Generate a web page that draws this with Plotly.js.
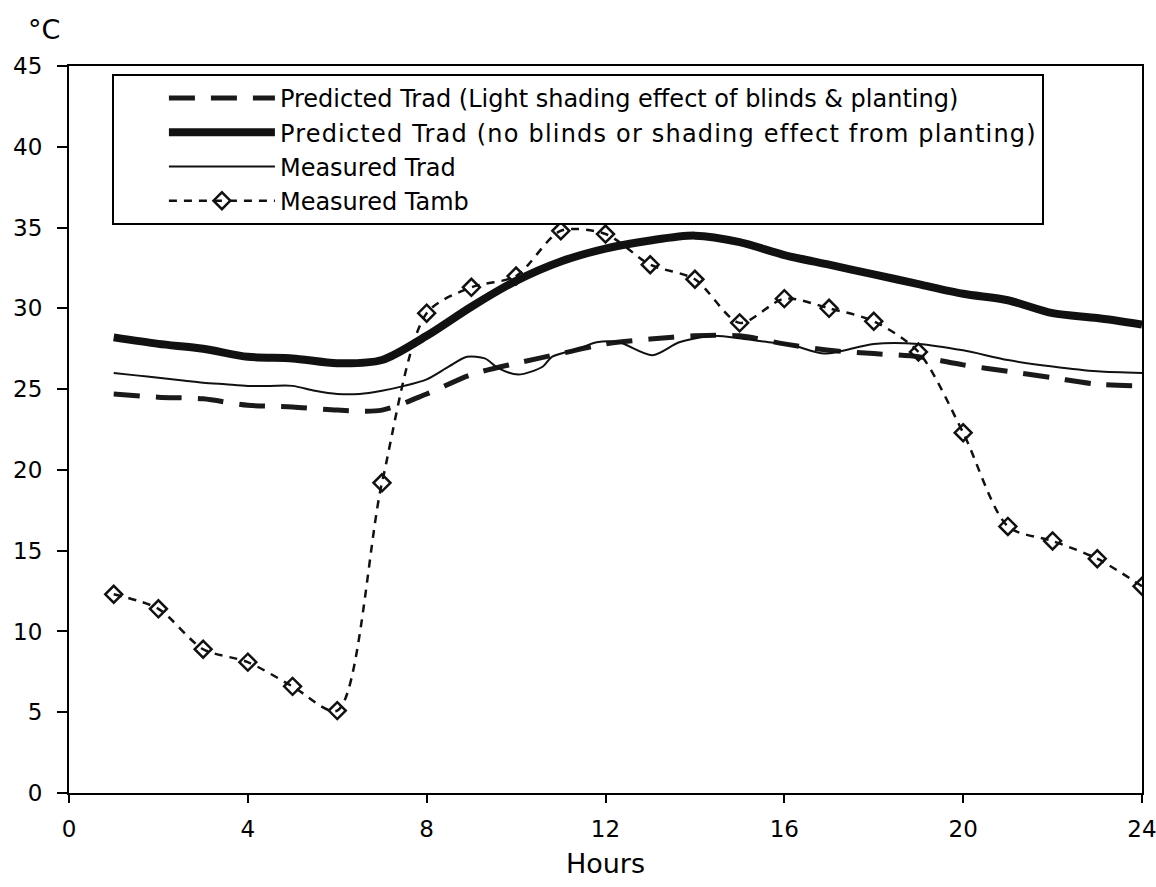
<!DOCTYPE html>
<html>
<head>
<meta charset="utf-8">
<script src="https://cdn.plot.ly/plotly-3.0.1.min.js"></script>
<style>
html,body{margin:0;padding:0;background:#fff;}
#chart{width:1156px;height:887px;}
</style>
</head>
<body>
<div id="chart"></div>
<script>
// Hours for the hourly series
const hours = [1,2,3,4,5,6,7,8,9,10,11,12,13,14,15,16,17,18,19,20,21,22,23,24];

// Predicted Trad (Light shading effect of blinds & planting)
const predLight = [24.7,24.5,24.4,24.0,23.9,23.7,23.7,24.7,25.9,26.6,27.2,27.8,28.1,28.3,28.3,27.8,27.4,27.2,27.0,26.5,26.1,25.7,25.3,25.2];

// Predicted Trad (no blinds or shading effect from planting)
const predNoBlinds = [28.2,27.8,27.5,27.0,26.9,26.6,26.8,28.3,30.1,31.7,32.9,33.7,34.2,34.5,34.1,33.3,32.7,32.1,31.5,30.9,30.5,29.7,29.4,29.0];

// Measured Trad (read at irregular hours along the curve)
const measTradHours = [1,1.5,2,2.5,3,3.5,4,4.5,5,5.5,6,6.5,7,7.5,8,8.5,8.9,9.3,9.6,10.05,10.6,10.8,11.4,11.8,12.3,13.05,13.65,14.4,15.1,15.65,16.2,16.9,18,19,20,21,22,23,24];
const measTrad = [26.0,25.85,25.7,25.55,25.4,25.3,25.2,25.2,25.2,24.9,24.7,24.7,24.9,25.2,25.6,26.4,27.0,26.9,26.3,25.9,26.4,27.0,27.5,27.9,27.9,27.1,27.9,28.3,28.1,27.9,27.7,27.2,27.8,27.8,27.4,26.8,26.4,26.1,26.0];

// Measured Tamb
const measTamb = [12.3,11.4,8.9,8.1,6.6,5.1,19.2,29.7,31.3,32.0,34.8,34.6,32.7,31.8,29.1,30.6,30.0,29.2,27.3,22.3,16.5,15.6,14.5,12.8];

const xTicks = [0,4,8,12,16,20,24];
const yTicks = [0,5,10,15,20,25,30,35,40,45];

const seriesNames = [
  'Predicted Trad (Light shading effect of blinds & planting)',
  '<span style="letter-spacing:1.2px">Predicted Trad (no blinds or shading effect from planting)</span>',
  'Measured Trad',
  'Measured Tamb'
];

const FONT = '"DejaVu Sans", Arial, sans-serif';

const traces = [
  {
    x: hours, y: predLight, mode: 'lines', type: 'scatter',
    name: seriesNames[0],
    line: {color: '#1a1a1a', width: 5, dash: '26px,16px', shape: 'spline', smoothing: 0.8}
  },
  {
    x: hours, y: predNoBlinds, mode: 'lines', type: 'scatter',
    name: seriesNames[1],
    line: {color: '#111', width: 8, shape: 'spline', smoothing: 0.8}
  },
  {
    x: measTradHours, y: measTrad, mode: 'lines', type: 'scatter',
    name: seriesNames[2],
    line: {color: '#111', width: 2, shape: 'spline', smoothing: 0.8}
  },
  {
    x: hours, y: measTamb, mode: 'lines+markers', type: 'scatter',
    name: seriesNames[3],
    line: {color: '#111', width: 2.5, dash: '8px,7px', shape: 'spline', smoothing: 0.8},
    marker: {symbol: 'diamond-open', size: 13, color: '#111', line: {color: '#111', width: 2.5}}
  }
];

const layout = {
  width: 1156, height: 887,
  paper_bgcolor: '#fff', plot_bgcolor: '#fff',
  margin: {l: 69, r: 14, t: 66, b: 94},
  font: {family: FONT, size: 23, color: '#000'},
  showlegend: true,
  legend: {
    x: 0.040, y: 0.989, xanchor: 'left', yanchor: 'top',
    bgcolor: '#fff', bordercolor: '#000', borderwidth: 2,
    font: {family: FONT, size: 24, color: '#000'},
    itemwidth: 106, indentation: 50, tracegroupgap: 0
  },
  xaxis: {
    range: [0, 24], tickmode: 'array', tickvals: xTicks, ticktext: xTicks.map(String),
    showgrid: false, zeroline: false, showline: true, linecolor: '#000', linewidth: 2,
    mirror: true, ticks: 'outside', ticklen: 8, tickwidth: 2, tickcolor: '#000',
    ticklabelstandoff: 6, ticklabeloverflow: 'allow',
    tickfont: {family: FONT, size: 23, color: '#000'},
    title: {text: 'Hours', font: {family: FONT, size: 27, color: '#000'}, standoff: 14}
  },
  yaxis: {
    range: [0, 45], tickmode: 'array', tickvals: yTicks, ticktext: yTicks.map(String),
    showgrid: false, zeroline: false, showline: true, linecolor: '#000', linewidth: 2,
    mirror: true, ticks: 'outside', ticklen: 10, tickwidth: 2, tickcolor: '#000',
    ticklabelstandoff: 10, ticklabeloverflow: 'allow',
    tickfont: {family: FONT, size: 23, color: '#000'}
  },
  annotations: [{
    text: '°C', xref: 'paper', yref: 'paper', x: -0.04, y: 1.05,
    xanchor: 'left', yanchor: 'middle', showarrow: false,
    font: {family: FONT, size: 27, color: '#000'}
  }]
};

Plotly.newPlot('chart', traces, layout, {displayModeBar: false, staticPlot: true});
</script>
</body>
</html>
